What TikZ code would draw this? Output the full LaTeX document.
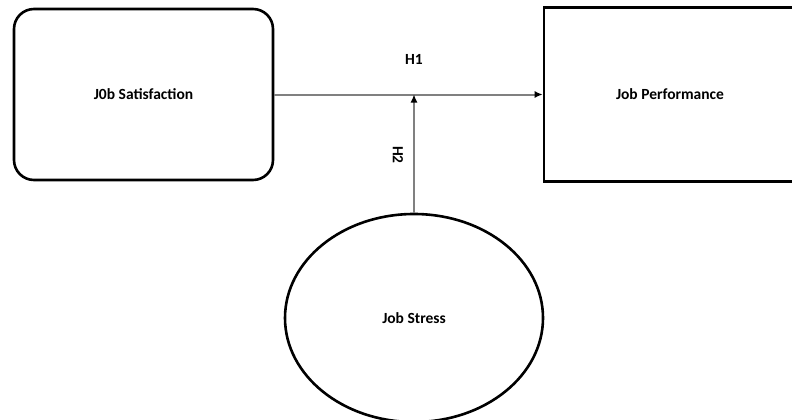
\documentclass[tikz,border=0pt]{standalone}
\usepackage{fontspec}
\setmainfont{Carlito}
\usetikzlibrary{arrows,arrows.meta,positioning,shapes.geometric}
\tikzset{>=latex}

\begin{document}
\begin{tikzpicture}[x=1pt,y=-1pt,
		box/.style={draw=black, line width=2.6pt, inner sep=0pt, font=\fontsize{15.5}{18}\selectfont\bfseries},
		link/.style={draw=black!50, arrows={-Latex[black,length=8pt,width=7pt]}},
		node distance=526.5pt, on grid]
	\useasboundingbox (0,0) rectangle (792,420);
	\node[box, rounded corners=20pt, minimum width=259pt, minimum height=171pt] (sat) at (143.5,94.5) {J0b Satisfaction};
	\node[box, minimum width=252pt, minimum height=174pt] (perf) [right=of sat] {Job Performance};
	\node[box, ellipse, minimum width=258pt, minimum height=208pt] (stress) [below right=223.5pt and 270.5pt of sat] {Job Stress};
	\path (stress.north |- sat) coordinate (mid);
	\draw[link, line width=2pt] (sat) -- (perf);
	\draw[link, line width=1.3pt] (stress) -- (mid);
	\node[font=\fontsize{15.5}{18}\selectfont\bfseries] (h1) [above=26pt of mid] {H1};
	\node[font=\fontsize{15.5}{18}\selectfont\bfseries, rotate=-90] (h2) at (398,155) {H2};
\end{tikzpicture}
\end{document}
